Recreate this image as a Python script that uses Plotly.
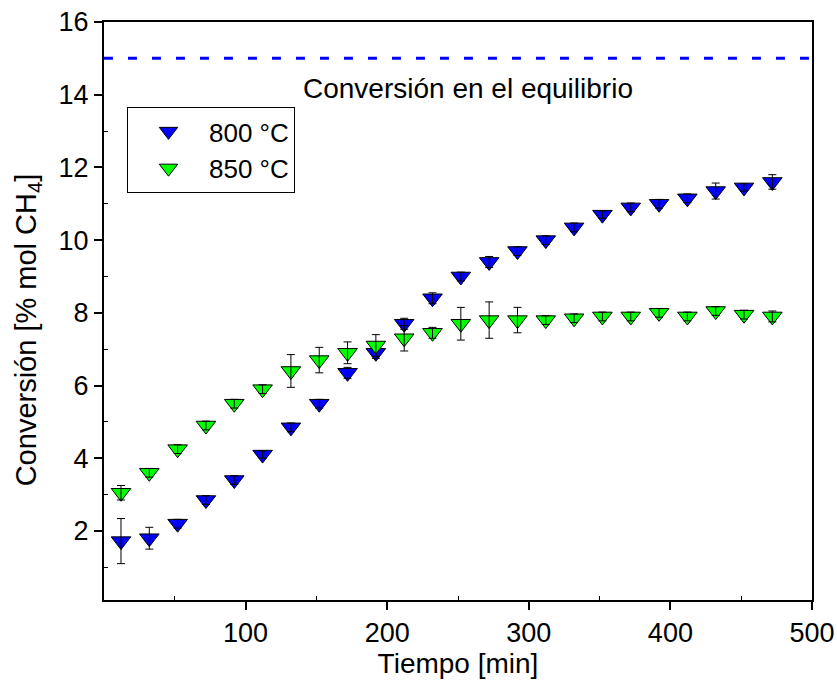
import plotly.graph_objects as go

tiempo = [12, 32, 52, 72, 92, 112, 132, 152, 172, 192, 212, 232,
          252, 272, 292, 312, 332, 352, 372, 392, 412, 432, 452, 472]

conv_800 = [1.72, 1.8, 2.2, 2.85, 3.4, 4.1, 4.85, 5.5, 6.35, 6.9, 7.7, 8.4,
            9.0, 9.4, 9.7, 10.0, 10.35, 10.7, 10.9, 11.0, 11.15, 11.35, 11.45, 11.6]
err_800 = [0.62, 0.3, 0.12, 0.12, 0.12, 0.1, 0.12, 0.12, 0.15, 0.15, 0.15, 0.15,
           0.12, 0.15, 0.12, 0.12, 0.12, 0.1, 0.12, 0.12, 0.12, 0.22, 0.1, 0.2]

conv_850 = [3.05, 3.6, 4.25, 4.9, 5.5, 5.9, 6.4, 6.7, 6.9, 7.1, 7.3, 7.45,
            7.7, 7.8, 7.8, 7.8, 7.85, 7.9, 7.9, 8.0, 7.9, 8.05, 7.95, 7.9]
err_850 = [0.2, 0.12, 0.12, 0.12, 0.12, 0.12, 0.45, 0.35, 0.3, 0.3, 0.35, 0.15,
           0.45, 0.5, 0.35, 0.12, 0.12, 0.12, 0.12, 0.12, 0.12, 0.12, 0.12, 0.15]

equilibrio = 15
etiqueta_eq = "Conversión en el equilibrio"
titulo_y = "Conversión [% mol CH<sub>4</sub>]"
titulo_x = "Tiempo [min]"

FONT = "Liberation Sans, Arial, sans-serif"
FS = 27

fig = go.Figure()

series = [("800 °C", conv_800, err_800, "#0000FF"),
          ("850 °C", conv_850, err_850, "#00FF00")]

for i, (name, y, e, col) in enumerate(series):
    fig.add_trace(go.Scatter(
        x=tiempo, y=y, mode="markers", name=name, legendgroup=name,
        marker=dict(symbol="triangle-down", size=17, color=col,
                    line=dict(color="black", width=1)),
    ))
    fig.add_trace(go.Scatter(
        x=tiempo, y=y, mode="markers", showlegend=False, legendgroup=name,
        marker=dict(symbol="triangle-down", size=17, opacity=0),
        error_y=dict(type="data", array=e, visible=True, color="black",
                     thickness=1, width=4),
        hoverinfo="skip",
    ))

fig.add_shape(type="line", xref="paper", yref="y", x0=0, x1=1,
              y0=equilibrio, y1=equilibrio,
              line=dict(color="#0000FF", width=3, dash="9px,15px"))

fig.add_annotation(x=257, y=14.18, xref="x", yref="y", text=etiqueta_eq,
                   showarrow=False, font=dict(family=FONT, size=28, color="black"))

fig.add_annotation(x=-0.107, y=0.467, xref="paper", yref="paper", text=titulo_y,
                   textangle=-90, showarrow=False, xanchor="center", yanchor="middle",
                   font=dict(family=FONT, size=29, color="black"))

axis_common = dict(
    showline=True, linecolor="black", linewidth=2, mirror=True,
    ticks="outside", ticklen=8, tickwidth=2, tickcolor="black",
    showgrid=False, zeroline=False, automargin=False,
    tickfont=dict(family=FONT, size=FS, color="black"),
)

fig.update_xaxes(range=[0, 500], tickvals=[100, 200, 300, 400, 500],
                 minor=dict(tickvals=[50, 150, 250, 350, 450], ticks="inside",
                            ticklen=4, tickwidth=1, tickcolor="black"),
                 title=dict(text=titulo_x, font=dict(family=FONT, size=28, color="black"),
                            standoff=2),
                 **axis_common)
fig.update_yaxes(range=[0.1, 16], tickvals=[2, 4, 6, 8, 10, 12, 14, 16],
                 minor=dict(tickvals=[1, 3, 5, 7, 9, 11, 13, 15], ticks="inside",
                            ticklen=4, tickwidth=1, tickcolor="black"),
                 **axis_common)

fig.update_layout(
    width=837, height=682,
    margin=dict(l=104, r=25, t=22, b=82),
    plot_bgcolor="white", paper_bgcolor="white",
    font=dict(family=FONT, size=FS, color="black"),
    showlegend=True,
    legend=dict(x=0.0325, y=0.853, xanchor="left", yanchor="top",
                bgcolor="white", bordercolor="black", borderwidth=1,
                font=dict(family=FONT, size=26, color="black"),
                itemwidth=71, tracegroupgap=0, traceorder="grouped"),
)

fig.write_html("out.html")
